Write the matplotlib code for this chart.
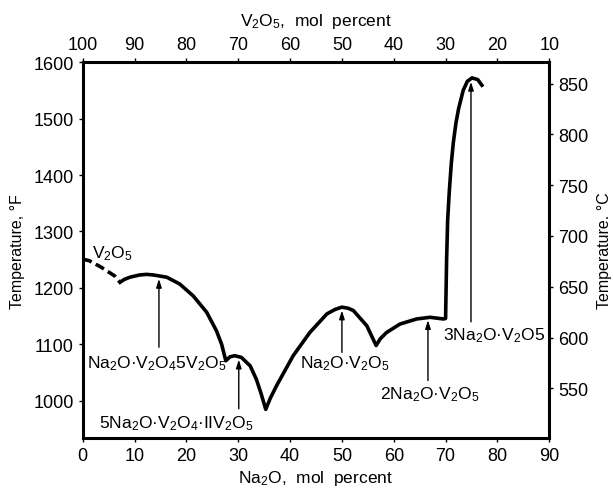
import matplotlib.pyplot as plt

plt.rcParams['font.family'] = ['Liberation Sans', 'DejaVu Sans']
plt.rcParams['mathtext.fontset'] = 'custom'
plt.rcParams['mathtext.rm'] = 'Liberation Sans'
plt.rcParams['mathtext.it'] = 'Liberation Sans:italic'
plt.rcParams['mathtext.bf'] = 'Liberation Sans:bold'

# liquidus, dashed part (V2O5 side)
na2o_dash = [0, 1.3, 3.5, 6.2, 7.2]
temp_dash = [1251, 1248, 1237, 1221, 1210]

# liquidus, solid part
na2o_solid = [7.2, 8.0, 9.1, 11.0, 12.3, 13.6, 16.2, 18.7, 21.3, 23.9, 25.8, 26.8, 27.6,
              28.4, 29.3, 30.6, 32.3, 33.5, 34.4, 35.3,
              36.2, 37.4, 40.6, 43.8, 47.1, 48.7, 50.0, 51.2, 52.2, 54.8, 56.6,
              57.4, 58.6, 61.2, 64.4, 67.0, 69.6, 70.0,
              70.2, 70.4, 70.7, 71.1, 71.5, 72.0, 72.5, 73.4, 74.2, 75.1, 76.2, 77.0]
temp_solid = [1210, 1215, 1219, 1223, 1224, 1223, 1219, 1207, 1186, 1157, 1124, 1100, 1071,
              1078, 1080, 1077, 1062, 1038, 1013, 985,
              1005, 1027, 1080, 1121, 1154, 1162, 1166, 1164, 1160, 1133, 1098,
              1110, 1121, 1136, 1145, 1148, 1145, 1146,
              1251, 1320, 1369, 1420, 1458, 1492, 1517, 1550, 1566, 1572, 1569, 1559]

# compound labels: text, text x, text y, arrow tail (x, y), arrow tip (x, y)
labels = [r'Na$_2$O·V$_2$O$_4$5V$_2$O$_5$',
          r'5Na$_2$O·V$_2$O$_4$·IIV$_2$O$_5$',
          r'Na$_2$O·V$_2$O$_5$',
          r'2Na$_2$O·V$_2$O$_5$',
          r'3Na$_2$O·V$_2$O5']
label_x = [14.2, 18.0, 50.5, 67.0, 79.3]
label_y = [1068, 962, 1068, 1012, 1118]
arrow_tail = [(14.7, 1095), (30.1, 986), (50.0, 1086), (66.6, 1036), (74.9, 1140)]
arrow_tip = [(14.7, 1216), (30.1, 1073), (50.0, 1160), (66.6, 1143), (74.9, 1565)]

f_ticks = [1000, 1100, 1200, 1300, 1400, 1500, 1600]
c_ticks = [550, 600, 650, 700, 750, 800, 850]
x_ticks = [0, 10, 20, 30, 40, 50, 60, 70, 80, 90]
v_ticks = [100, 90, 80, 70, 60, 50, 40, 30, 20, 10]

fig = plt.figure(figsize=(6.13, 4.89), dpi=100)
ax = fig.add_axes([0.135, 0.102, 0.761, 0.769])

ax.plot(na2o_dash, temp_dash, color='black', lw=2.6, ls=(0, (2.6, 1.3)),
        solid_capstyle='butt', dash_capstyle='butt')
ax.plot(na2o_solid, temp_solid, color='black', lw=2.6, solid_joinstyle='round')

for txt, tx, ty, tail, tip in zip(labels, label_x, label_y, arrow_tail, arrow_tip):
    ax.text(tx, ty, txt, ha='center', va='center', fontsize=12.5)
    ax.annotate('', xy=tip, xytext=tail,
                arrowprops=dict(arrowstyle='-|>,head_length=0.5,head_width=0.16',
                                color='black', lw=1.0, shrinkA=0, shrinkB=0))

ax.text(1.8, 1263, r'V$_2$O$_5$', ha='left', va='center', fontsize=12.5)

ax.set_xlim(0, 90)
ax.set_ylim(934, 1600)
ax.set_xticks(x_ticks)
ax.set_yticks(f_ticks)
ax.tick_params(labelsize=13, length=3, width=1, direction='out')
ax.set_xlabel(r'Na$_2$O,  mol  percent', fontsize=12.5, labelpad=3)
ax.set_ylabel('Temperature, °F', fontsize=11.5, labelpad=6)
for s in ax.spines.values():
    s.set_linewidth(2.2)

top = ax.secondary_xaxis('top', functions=(lambda x: 100 - x, lambda v: 100 - v))
top.set_xticks(v_ticks)
top.tick_params(labelsize=13, length=3, width=1)
top.set_xlabel(r'V$_2$O$_5$,  mol  percent', fontsize=12.5, labelpad=8)

right = ax.secondary_yaxis('right', functions=(lambda f: (f - 32) * 5 / 9,
                                               lambda c: c * 9 / 5 + 32))
right.set_yticks(c_ticks)
right.tick_params(labelsize=13, length=3, width=1)
right.set_ylabel('Temperature. °C', fontsize=11.5, labelpad=6)

fig.savefig('out.png', dpi=100)
